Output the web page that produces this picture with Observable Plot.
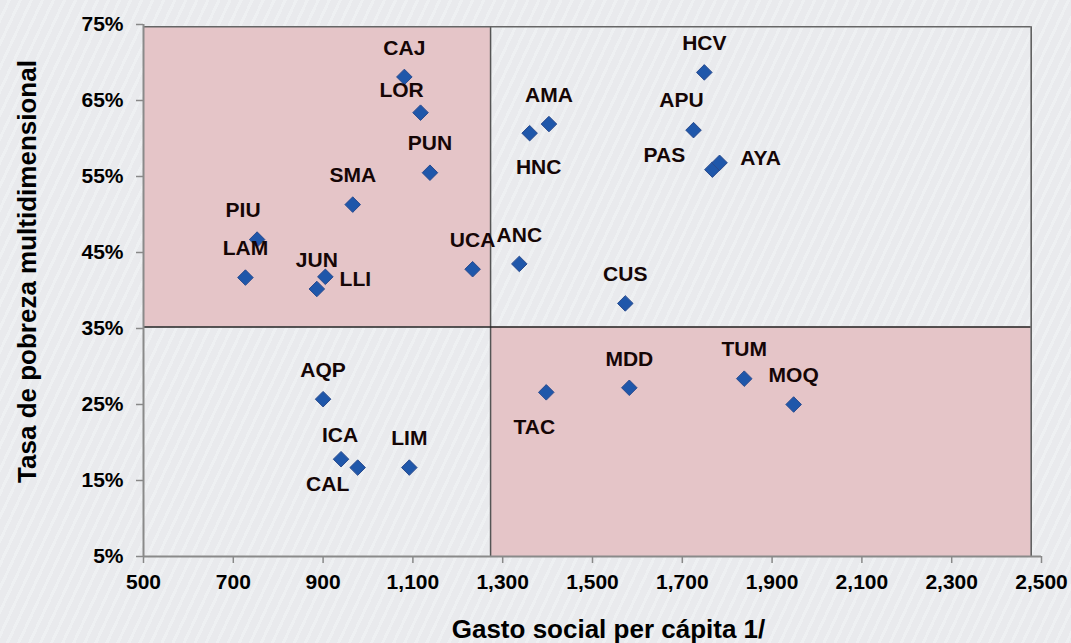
<!DOCTYPE html>
<html><head><meta charset="utf-8">
<script src="https://cdn.jsdelivr.net/npm/d3@7"></script>
<script src="https://cdn.jsdelivr.net/npm/@observablehq/plot@0.6"></script>
<style>
html,body{margin:0;padding:0;width:1071px;height:643px;overflow:hidden;}
body{background:#eaebee repeating-linear-gradient(115deg,#e9eaed 0px,#e9eaed 7px,#eef0f2 7px,#eef0f2 10px);font-family:"Liberation Sans",Arial,sans-serif;}
</style></head><body><div id="chart"></div>
<script>
// Regions (codes) and values
const regions = ["CAJ","LOR","PUN","SMA","PIU","LAM","JUN","LLI","UCA","ANC","AMA","HNC","HCV","APU","PAS","AYA","CUS","AQP","ICA","CAL","LIM","TAC","MDD","TUM","MOQ"];
const gastoPerCapita = [1081,1117,1138,966,753,727,886,905,1233,1337,1403,1360,1749,1725,1767,1783,1573,900,940,977,1092,1397,1582,1838,1948];
const tasaPobreza = [68.1,63.4,55.5,51.3,46.7,41.7,40.2,41.8,42.8,43.5,61.9,60.7,68.7,61.1,55.9,56.8,38.3,25.7,17.8,16.7,16.7,26.6,27.2,28.4,25.0];
const xTicks = [500,700,900,1100,1300,1500,1700,1900,2100,2300,2500];
const yTicks = [5,15,25,35,45,55,65,75];
const xTitle = "Gasto social per cápita 1/";
const yTitle = "Tasa de pobreza multidimensional";
// quadrant cut-offs and frame extent
const xCut = 1273, yCut = 35.2, xFrameEnd = 2477, yFrameTop = 74.7;

// label placement (layout, px offsets from point)
const labelOffset = {LOR:[-19,-22], PIU:[-14,-29], HNC:[9,34], APU:[-12,-30], PAS:[-48,-14], AYA:[41,-5], ICA:[-1,-24], CAL:[-30,17], TAC:[-12,35], LLI:[30,2]};
const defaultOffset = [0,-29];

const data = regions.map((r,i)=>({r, x:gastoPerCapita[i], y:tasaPobreza[i]}));
const font = '"Liberation Sans", Arial, sans-serif';

const labelMarks = data.map(d => {
  const [dx,dy] = labelOffset[d.r] || defaultOffset;
  return Plot.text([d], {x:"x", y:"y", text:"r", dx, dy, fontSize:21, fontWeight:"bold", fill:"#150606"});
});

const plot = Plot.plot({
  width:1071, height:643,
  marginLeft:143, marginRight:30, marginTop:24, marginBottom:87,
  style:{background:"transparent", fontFamily:font, fontSize:"21px", fontWeight:"bold", color:"#000", overflow:"visible"},
  x:{domain:[500,2500], label:null},
  y:{domain:[5,75], label:null},
  marks:[
    Plot.rect([{x1:500,x2:xCut,y1:yCut,y2:yFrameTop},{x1:xCut,x2:xFrameEnd,y1:5,y2:yCut}], {x1:"x1",x2:"x2",y1:"y1",y2:"y2", fill:"#e5c5c8"}),
    Plot.ruleX([xCut],{y1:5,y2:yFrameTop, stroke:"#555", strokeWidth:1.5}),
    Plot.ruleY([yCut],{x1:500,x2:xFrameEnd, stroke:"#222", strokeWidth:1.5}),
    Plot.ruleY([yFrameTop],{x1:500,x2:xFrameEnd, stroke:"#666", strokeWidth:1.5}),
    Plot.ruleX([xFrameEnd],{y1:5,y2:yFrameTop, stroke:"#555", strokeWidth:1.5}),
    Plot.axisX({ticks:xTicks, tickFormat:d3.format(","), tickSize:7, tickPadding:11, stroke:"#888", strokeWidth:1.5, fill:"#000", fontSize:21, fontWeight:"bold", label:null}),
    Plot.axisY({ticks:yTicks, tickFormat:d=>d+"%", tickSize:7, tickPadding:13, stroke:"#888", strokeWidth:1.5, fill:"#000", fontSize:21, fontWeight:"bold", label:null}),
    Plot.ruleY([5],{stroke:"#8a8a8a", strokeWidth:2}),
    Plot.ruleX([500],{stroke:"#8a8a8a", strokeWidth:2}),
    Plot.dot(data,{x:"x", y:"y", symbol:"diamond2", r:7, fill:"#1f57aa", stroke:"#2a4b8e", strokeWidth:1}),
    ...labelMarks,
    Plot.text([yTitle],{frameAnchor:"left", textAnchor:"middle", dx:-116, dy:-19, rotate:-90, fontSize:26, fontWeight:"bold", fill:"#000"}),
    Plot.text([xTitle],{frameAnchor:"bottom", lineAnchor:"bottom", dx:16, dy:81, fontSize:26, fontWeight:"bold", fill:"#000"})
  ]
});
document.getElementById("chart").appendChild(plot);
</script>
</body></html>
